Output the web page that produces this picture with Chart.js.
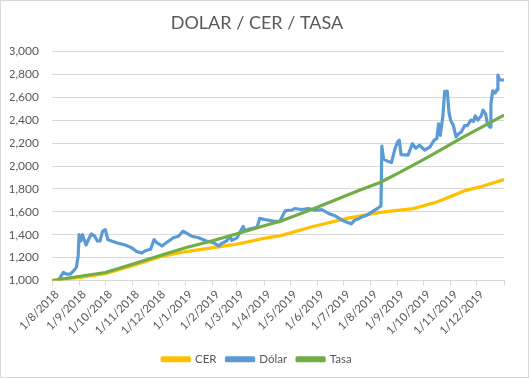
<!DOCTYPE html>
<html>
<head>
<meta charset="utf-8">
<script src="https://cdn.jsdelivr.net/npm/chart.js@4"></script>
<style>
  html, body { margin: 0; padding: 0; background: #fff; }
  #wrap { width: 529px; height: 378px; }
</style>
</head>
<body>
<div id="wrap"><canvas id="grafico" width="529" height="378"></canvas></div>
<script>
// Datos (fechas y valores)
const inicio = '2018-08-01';
const mesesEtiquetas = ['1/8/2018', '1/9/2018', '1/10/2018', '1/11/2018', '1/12/2018', '1/1/2019', '1/2/2019',
    '1/3/2019', '1/4/2019', '1/5/2019', '1/6/2019', '1/7/2019', '1/8/2019', '1/9/2019', '1/10/2019',
    '1/11/2019', '1/12/2019', ''];
const mesesFechas = ['2018-08-01', '2018-09-01', '2018-10-01', '2018-11-01', '2018-12-01', '2019-01-01', '2019-02-01',
    '2019-03-01', '2019-04-01', '2019-05-01', '2019-06-01', '2019-07-01', '2019-08-01', '2019-09-01', '2019-10-01',
    '2019-11-01', '2019-12-01', '2020-01-01'];

const cerFechas = ['2018-08-01', '2018-09-02', '2018-10-01', '2018-11-02', '2018-12-03', '2019-01-02', '2019-02-02',
    '2019-03-04', '2019-04-04', '2019-04-19', '2019-05-27', '2019-07-05', '2019-08-12', '2019-09-19', '2019-10-16',
    '2019-11-17', '2019-12-08', '2019-12-31'];
const cerValores = [1000, 1026, 1060, 1131, 1208, 1253, 1287, 1322, 1373, 1390, 1472, 1543, 1595, 1628, 1686,
    1785, 1825, 1879];

const tasaFechas = ['2018-08-01', '2018-09-02', '2018-10-01', '2018-11-02', '2018-12-03', '2019-01-02', '2019-02-02',
    '2019-03-04', '2019-04-04', '2019-04-19', '2019-05-27', '2019-07-05', '2019-07-20', '2019-08-12', '2019-09-04',
    '2019-09-27', '2019-10-20', '2019-11-12', '2019-12-31'];
const tasaValores = [1000, 1037, 1070, 1145, 1218, 1288, 1350, 1415, 1485, 1515, 1625, 1745, 1790, 1856, 1947,
    2041, 2140, 2240, 2440];

const dolarFechas = ['2018-08-09', '2018-08-14', '2018-08-18', '2018-08-22', '2018-08-27', '2018-08-29', '2018-08-31',
    '2018-09-01', '2018-09-03', '2018-09-05', '2018-09-09', '2018-09-11', '2018-09-15', '2018-09-19', '2018-09-22',
    '2018-09-25', '2018-09-28', '2018-10-01', '2018-10-04', '2018-10-08', '2018-10-14', '2018-10-24', '2018-10-31',
    '2018-11-06', '2018-11-12', '2018-11-16', '2018-11-22', '2018-11-26', '2018-11-29', '2018-12-05', '2018-12-10',
    '2018-12-18', '2018-12-24', '2018-12-29', '2019-01-02', '2019-01-08', '2019-01-16', '2019-01-25', '2019-02-02',
    '2019-02-08', '2019-02-11', '2019-02-17', '2019-02-21', '2019-02-23', '2019-03-01', '2019-03-08', '2019-03-10',
    '2019-03-16', '2019-03-24', '2019-03-27', '2019-04-04', '2019-04-12', '2019-04-19', '2019-04-25', '2019-04-29',
    '2019-05-03', '2019-05-06', '2019-05-14', '2019-05-22', '2019-05-29', '2019-06-06', '2019-06-14', '2019-06-21',
    '2019-06-29', '2019-07-05', '2019-07-10', '2019-07-14', '2019-07-18', '2019-07-23', '2019-07-28', '2019-08-04',
    '2019-08-10', '2019-08-13', '2019-08-14', '2019-08-16', '2019-08-20', '2019-08-25', '2019-08-29', '2019-09-01',
    '2019-09-03', '2019-09-05', '2019-09-13', '2019-09-18', '2019-09-22', '2019-09-26', '2019-10-02', '2019-10-08',
    '2019-10-13', '2019-10-16', '2019-10-18', '2019-10-20', '2019-10-23', '2019-10-25', '2019-10-28', '2019-10-30',
    '2019-11-01', '2019-11-04', '2019-11-07', '2019-11-10', '2019-11-13', '2019-11-17', '2019-11-20', '2019-11-24',
    '2019-11-27', '2019-11-29', '2019-12-02', '2019-12-06', '2019-12-08', '2019-12-11', '2019-12-13', '2019-12-16',
    '2019-12-17', '2019-12-19', '2019-12-22', '2019-12-24', '2019-12-25', '2019-12-27', '2019-12-31'];
const dolarValores = [1010, 1070, 1055, 1055, 1095, 1117, 1217,
    1400, 1345, 1400, 1310, 1345, 1407, 1387, 1345,
    1345, 1430, 1444, 1358, 1345, 1330, 1310, 1287,
    1253, 1240, 1260, 1273, 1358, 1330, 1302, 1330,
    1373, 1387, 1430, 1415, 1387, 1373, 1345, 1330,
    1302, 1322, 1345, 1387, 1350, 1373, 1472, 1435,
    1452, 1464, 1543, 1529, 1520, 1515, 1606, 1614,
    1614, 1629, 1620, 1629, 1614, 1620, 1586, 1566,
    1529, 1509, 1495, 1529, 1538, 1558, 1572, 1606,
    1635, 1652, 2175, 2060, 2045, 2030, 2150, 2210,
    2225, 2100, 2095, 2195, 2155, 2183, 2140, 2165,
    2226, 2240, 2368, 2268, 2439, 2652, 2652, 2467,
    2396, 2354, 2254, 2283, 2297, 2354, 2354, 2402,
    2390, 2439, 2402, 2439, 2488, 2454, 2368, 2339,
    2539, 2658, 2638, 2667, 2795, 2752, 2752];

// Dias desde el inicio del eje
function dias(fecha) {
    const [a, m, d] = fecha.split('-').map(Number);
    const [a0, m0, d0] = inicio.split('-').map(Number);
    return Math.round((Date.UTC(a, m - 1, d) - Date.UTC(a0, m0 - 1, d0)) / 86400000);
}

function puntos(fechas, valores) {
    return fechas.map((f, i) => ({ x: dias(f), y: valores[i] }));
}

const mesesDias = mesesFechas.map(dias);
const gris = '#595959';
const fuente = 'Lato, "Open Sans", sans-serif';

// Borde gris alrededor del area del grafico
const borde = {
    id: 'borde',
    afterDraw(chart) {
        const ctx = chart.ctx;
        ctx.save();
        ctx.strokeStyle = '#d9d9d9';
        ctx.lineWidth = 1;
        ctx.strokeRect(0.5, 0.5, chart.width - 1, chart.height - 1);
        ctx.restore();
    }
};

const ctx = document.getElementById('grafico').getContext('2d');
new Chart(ctx, {
    type: 'line',
    data: {
        datasets: [{
            label: 'CER',
            data: puntos(cerFechas, cerValores),
            borderColor: '#FFC000',
            backgroundColor: '#FFC000',
            order: 3
        }, {
            label: 'Dólar',
            data: puntos(dolarFechas, dolarValores),
            borderColor: '#5B9BD5',
            backgroundColor: '#5B9BD5',
            order: 2
        }, {
            label: 'Tasa',
            data: puntos(tasaFechas, tasaValores),
            borderColor: '#70AD47',
            backgroundColor: '#70AD47',
            order: 1
        }]
    },
    options: {
        responsive: false,
        animation: false,
        layout: { padding: { left: 10, right: 25, top: 6, bottom: 3 } },
        elements: {
            line: { borderWidth: 3.2, tension: 0, borderCapStyle: 'round', borderJoinStyle: 'round' },
            point: { radius: 0 }
        },
        scales: {
            x: {
                type: 'linear',
                min: 0,
                max: mesesDias[mesesDias.length - 1],
                afterBuildTicks: (scale) => {
                    scale.ticks = mesesDias.map(v => ({ value: v }));
                },
                afterFit: (scale) => { scale.height = 63; },
                ticks: {
                    autoSkip: false,
                    minRotation: 45,
                    maxRotation: 45,
                    color: gris,
                    font: { family: fuente, size: 11.5 },
                    padding: 2,
                    labelOffset: 5,
                    callback: (value, index) => mesesEtiquetas[index]
                },
                grid: { drawOnChartArea: false, drawTicks: true, tickLength: 5, color: '#d9d9d9' },
                border: { color: '#d9d9d9' }
            },
            y: {
                min: 1000,
                max: 3000,
                afterFit: (scale) => { scale.width = 42; },
                ticks: {
                    stepSize: 200,
                    color: gris,
                    font: { family: fuente, size: 12 },
                    padding: 13,
                    callback: (value) => value.toLocaleString('en-US')
                },
                grid: { color: '#d9d9d9', drawTicks: false },
                border: { display: false }
            }
        },
        plugins: {
            title: {
                display: true,
                text: 'DOLAR / CER / TASA',
                color: gris,
                font: { family: fuente, size: 18, weight: 'normal' },
                padding: { top: 6, bottom: 18 }
            },
            legend: {
                position: 'bottom',
                labels: {
                    color: gris,
                    font: { family: fuente, size: 11.5 },
                    boxWidth: 27,
                    boxHeight: 3,
                    padding: 10,
                    sort: (a, b) => a.datasetIndex - b.datasetIndex
                }
            },
            tooltip: { enabled: false }
        }
    },
    plugins: [borde]
});
</script>
</body>
</html>
